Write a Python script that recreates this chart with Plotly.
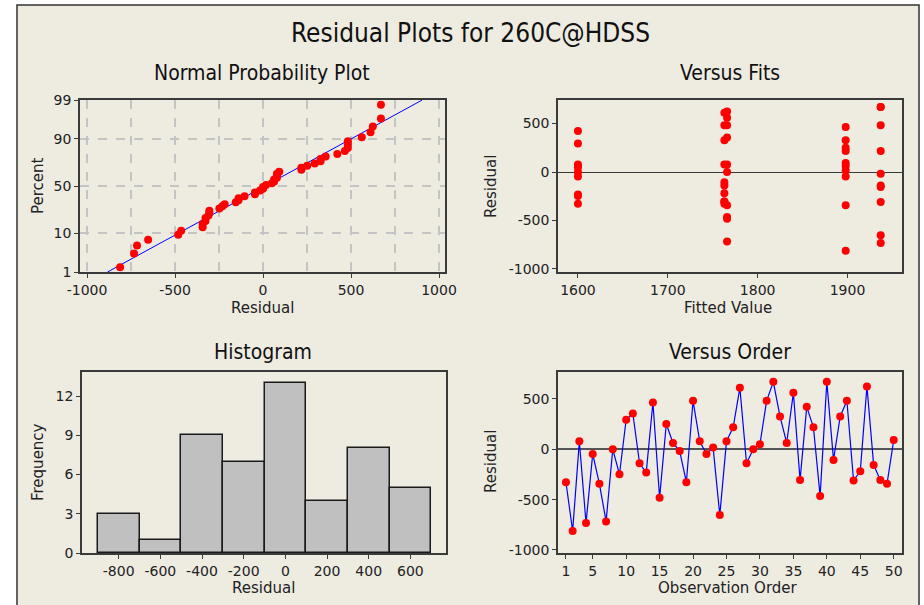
import plotly.graph_objects as go
from statistics import NormalDist, mean, stdev

# ---------------- data ----------------
observation = list(range(1, 51))
residual = [-327, -812, 79, -733, -46, -343, -716, 0, -248, 294,
            356, -139, -231, 465, -482, 251, 63, -17, -327, 482,
            79, -46, 17, -653, 79, 218, 611, -139, 0, 50,
            482, 670, 327, 63, 561, -305, 422, 218, -465, 670,
            -105, 327, 482, -310, -218, 624, -155, -305, -343, 92]
fitted = [1600, 1898, 1763, 1937, 1898, 1766, 1766, 1600, 1600, 1600,
          1766, 1937, 1600, 1898, 1766, 1898, 1600, 1937, 1763, 1763,
          1766, 1600, 1898, 1937, 1600, 1937, 1763, 1763, 1766, 1600,
          1766, 1937, 1898, 1898, 1766, 1763, 1600, 1898, 1766, 1937,
          1763, 1763, 1937, 1937, 1763, 1766, 1937, 1763, 1898, 1898]
prob_ticks = [1, 10, 50, 90, 99]
npp_x_ticks = [-1000, -500, 0, 500, 1000]
fits_x_ticks = [1600, 1700, 1800, 1900]
resid_ticks = [-1000, -500, 0, 500]
hist_x_ticks = [-800, -600, -400, -200, 0, 200, 400, 600]
hist_y_ticks = [0, 3, 6, 9, 12]
order_ticks = [1, 5, 10, 15, 20, 25, 30, 35, 40, 45, 50]
hist_start, hist_end, hist_size = -900, 700, 200

# ---------------- derived quantities ----------------
nd = NormalDist()
n = len(residual)
sorted_res = sorted(residual)
z_pts = [nd.inv_cdf((i + 1 - 0.3) / (n + 0.4)) for i in range(n)]
mu, sd = mean(residual), stdev(residual)
z_lo, z_hi = nd.inv_cdf(0.01), nd.inv_cdf(0.99)
z_line = [z_lo + (z_hi - z_lo) * k / 20 for k in range(21)]
x_line = [mu + sd * z for z in z_line]

W, H = 924, 605
def px_x(p): return p / W
def px_y(p): return 1 - p / H
def lab(v): return [str(t) for t in v]   # plain hyphen minus like the reference

BG = "#EEEBE1"
FRAME = "#3A3A3A"
RED = "#FF0000"
BLUE = "#0000FF"
TICKFONT = dict(family="DejaVu Sans, Verdana, sans-serif", size=14, color="#222222")
LABFONT = dict(family="DejaVu Sans, Verdana, sans-serif", size=15, color="#222222")
TITLEFONT = dict(family="Liberation Sans Narrow, Arial Narrow, DejaVu Sans Condensed, sans-serif", size=21, color="#111111")

fig = go.Figure()

fig.add_trace(go.Scatter(x=x_line, y=z_line, mode="lines", line=dict(color=BLUE, width=1),
                         xaxis="x", yaxis="y", hoverinfo="skip"))
fig.add_trace(go.Scatter(x=sorted_res, y=z_pts, mode="markers",
                         marker=dict(color=RED, size=8), xaxis="x", yaxis="y"))
fig.add_trace(go.Scatter(x=fitted, y=residual, mode="markers",
                         marker=dict(color=RED, size=8), xaxis="x2", yaxis="y2"))
fig.add_trace(go.Histogram(x=residual, xbins=dict(start=hist_start, end=hist_end, size=hist_size),
                           marker=dict(color="#C0C0C0", line=dict(color="#1A1A1A", width=1.5)),
                           xaxis="x3", yaxis="y3"))
fig.add_trace(go.Scatter(x=observation, y=residual, mode="lines+markers",
                         line=dict(color=BLUE, width=1.2),
                         marker=dict(color=RED, size=8), xaxis="x4", yaxis="y4"))

axis_common = dict(showline=True, mirror=True, linecolor=FRAME, linewidth=1.5,
                   ticks="outside", ticklen=4, tickcolor=FRAME, tickwidth=1,
                   tickfont=TICKFONT, showgrid=False, zeroline=False, fixedrange=True,
                   automargin=False)

dom_tl_x = [px_x(80), px_x(445)]
dom_top_y = [px_y(272), px_y(100)]
dom_tr_x = [px_x(558), px_x(902)]
dom_bl_x = [px_x(82), px_x(446)]
dom_bot_y = [px_y(553), px_y(372)]
GRID = dict(gridcolor="#C4C4C4", griddash="dash", gridwidth=1.5)

fig.update_layout(
    width=W, height=H, autosize=False,
    margin=dict(l=0, r=0, t=0, b=0, pad=0, autoexpand=False),
    paper_bgcolor="white", plot_bgcolor="white", showlegend=False, bargap=0,
    xaxis=dict(axis_common, domain=dom_tl_x, anchor="y", range=[-1040, 1034],
               tickvals=npp_x_ticks, ticktext=lab(npp_x_ticks), showgrid=True, **GRID,
               minor=dict(tickvals=[-750, -250, 250, 750], showgrid=True, ticklen=0, **GRID)),
    yaxis=dict(axis_common, domain=dom_top_y, anchor="x", range=[z_lo, z_hi],
               tickvals=[nd.inv_cdf(p / 100) for p in prob_ticks],
               ticktext=lab(prob_ticks), showgrid=True, **GRID),
    xaxis2=dict(axis_common, domain=dom_tr_x, anchor="y2", range=[1577.8, 1960.7],
                tickvals=fits_x_ticks, ticktext=lab(fits_x_ticks)),
    yaxis2=dict(axis_common, domain=dom_top_y, anchor="x2", range=[-1031, 743],
                tickvals=resid_ticks, ticktext=lab(resid_ticks), zeroline=True,
                zerolinecolor=FRAME, zerolinewidth=1.2),
    xaxis3=dict(axis_common, domain=dom_bl_x, anchor="y3", range=[-976, 771],
                tickvals=hist_x_ticks, ticktext=lab(hist_x_ticks)),
    yaxis3=dict(axis_common, domain=dom_bot_y, anchor="x3", range=[0, 13.85],
                tickvals=hist_y_ticks, ticktext=lab(hist_y_ticks)),
    xaxis4=dict(axis_common, domain=dom_tr_x, anchor="y4", range=[-0.19, 51.24],
                tickvals=order_ticks, ticktext=lab(order_ticks)),
    yaxis4=dict(axis_common, domain=dom_bot_y, anchor="x4", range=[-1030, 768],
                tickvals=resid_ticks, ticktext=lab(resid_ticks), zeroline=True,
                zerolinecolor="#555555", zerolinewidth=1.5),
)

fig.add_shape(type="rect", xref="paper", yref="paper",
              x0=px_x(17), x1=px_x(919), y0=-0.02, y1=px_y(5),
              fillcolor=BG, line=dict(color="#333333", width=1.5), layer="below")

def ann(text, x, y, font, angle=0):
    fig.add_annotation(text=text, x=px_x(x), y=px_y(y), xref="paper", yref="paper",
                       showarrow=False, font=font, textangle=angle,
                       xanchor="center", yanchor="middle")

ann("Residual Plots for 260C@HDSS", 470, 33, dict(TITLEFONT, size=26))
ann("Normal Probability Plot", 262, 73, TITLEFONT)
ann("Versus Fits", 730, 73, TITLEFONT)
ann("Histogram", 263, 352, TITLEFONT)
ann("Versus Order", 730, 352, TITLEFONT)

ann("Residual", 262, 308, LABFONT)
ann("Percent", 38, 186, LABFONT, -90)
ann("Fitted Value", 728, 308, LABFONT)
ann("Residual", 491, 187, LABFONT, -90)
ann("Residual", 263, 588, LABFONT)
ann("Frequency", 38, 462, LABFONT, -90)
ann("Observation Order", 728, 588, LABFONT)
ann("Residual", 491, 462, LABFONT, -90)

fig.write_html("out.html")
